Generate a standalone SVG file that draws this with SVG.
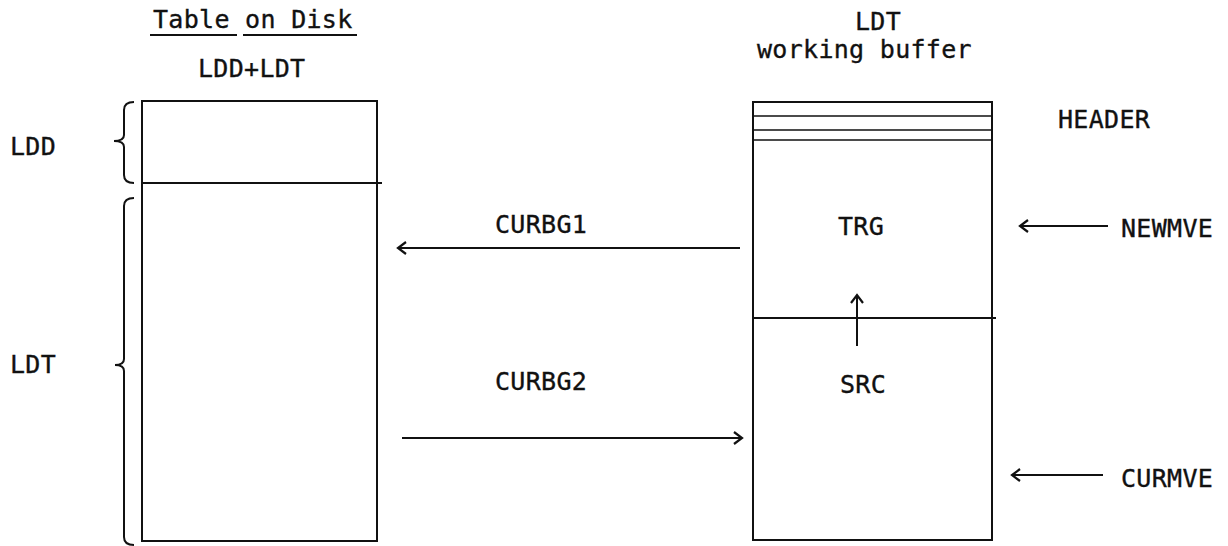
<svg xmlns="http://www.w3.org/2000/svg" width="1228" height="546" viewBox="0 0 1228 546">
<style>
  text { font-family: "DejaVu Sans Mono", "Liberation Mono", monospace; font-size: 25px; fill: #111; stroke: #111; stroke-width: 0.35; letter-spacing: 0.3px; }
  .box { fill: none; stroke: #111; stroke-width: 2; }
  .ln { fill: none; stroke: #111; stroke-width: 2; }
  .thin { fill: none; stroke: #111; stroke-width: 1.6; }
  .arr { fill: none; stroke: #111; stroke-width: 2; marker-end: url(#head); }
</style>
<defs>
  <marker id="head" markerWidth="14" markerHeight="14" refX="11" refY="7" orient="auto" markerUnits="userSpaceOnUse">
    <path d="M3,1 L11,7 L3,13" fill="none" stroke="#111" stroke-width="2.2"/>
  </marker>
</defs>
<rect width="1228" height="546" fill="#fff"/>

<g id="title-left">
  <text x="153" y="28">Table on Disk</text>
  <path class="ln" d="M150,35 H237 M243,35 H357"/>
  <text x="198" y="77">LDD+LDT</text>
</g>

<g id="title-right">
  <text x="855" y="30">LDT</text>
  <text x="757" y="58">working buffer</text>
</g>

<g id="disk-table">
  <rect class="box" x="142" y="101" width="235" height="440"/>
  <path class="ln" d="M142,183 H382"/>
</g>

<g id="ldd-label">
  <path class="ln" d="M134,102 Q124,102 124,110 V135 Q124,141 114,141 Q124,141 124,147 V175 Q124,183 134,183"/>
  <text x="10" y="155">LDD</text>
</g>

<g id="ldt-label">
  <path class="ln" d="M134,198 Q124,198 124,206 V359 Q124,365 115,365 Q124,365 124,371 V537 Q124,545 134,545"/>
  <text x="10" y="373">LDT</text>
</g>

<g id="working-buffer">
  <rect class="box" x="753" y="102" width="239" height="438"/>
  <path class="thin" d="M753,116 H992 M753,130 H992 M753,140 H992"/>
  <path class="ln" d="M753,318 H996"/>
  <text x="838" y="235">TRG</text>
  <text x="840" y="393">SRC</text>
</g>

<g id="header-label">
  <text x="1058" y="128">HEADER</text>
</g>

<g id="newmve">
  <text x="1121" y="237">NEWMVE</text>
</g>

<g id="curmve">
  <text x="1121" y="487">CURMVE</text>
</g>

<g id="connectors">
  <line class="arr" x1="740" y1="248" x2="398" y2="248"/>
  <text x="495" y="233">CURBG1</text>
  <line class="arr" x1="402" y1="438" x2="742" y2="438"/>
  <text x="495" y="390">CURBG2</text>
  <line class="arr" x1="857" y1="346" x2="857" y2="295"/>
  <line class="arr" x1="1108" y1="226" x2="1020" y2="226"/>
  <line class="arr" x1="1103" y1="475" x2="1012" y2="475"/>
</g>
</svg>
